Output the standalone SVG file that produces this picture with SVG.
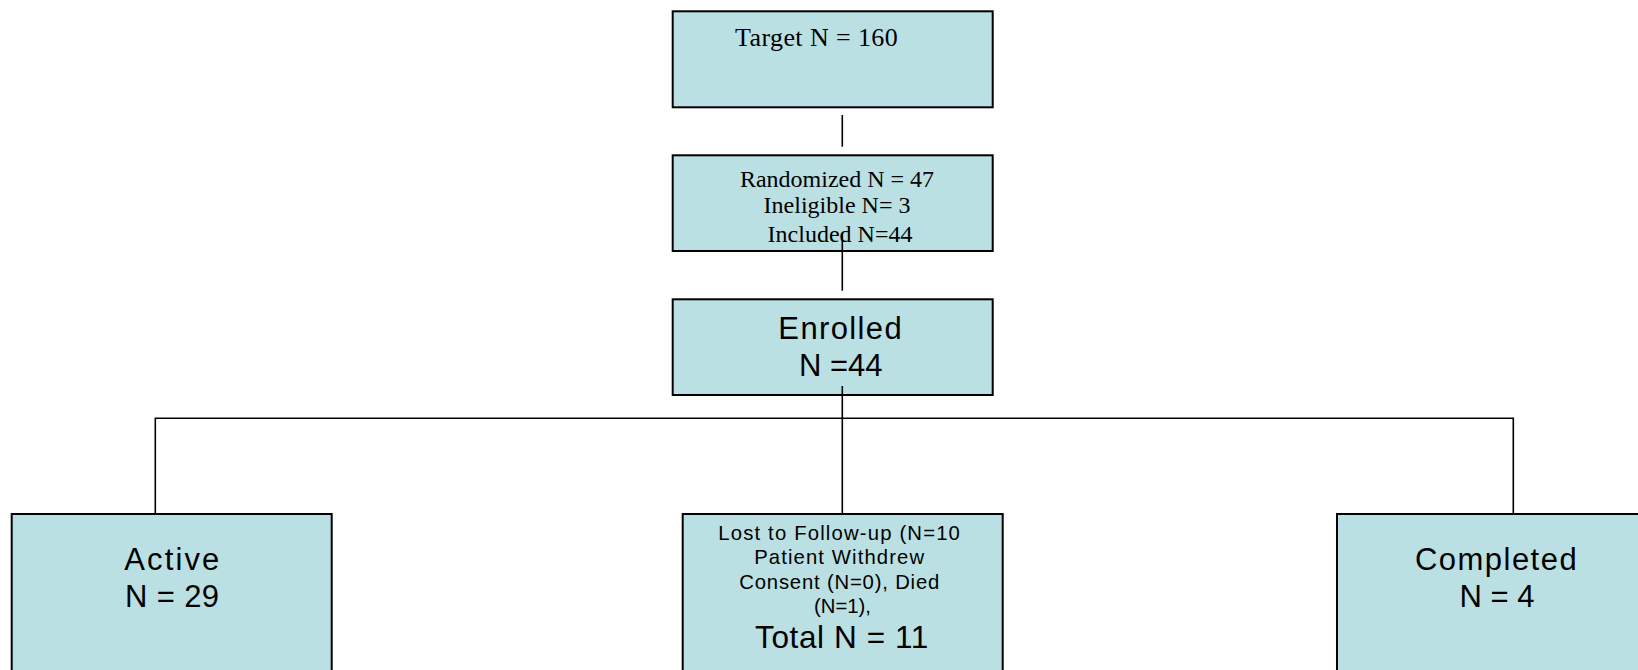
<svg xmlns="http://www.w3.org/2000/svg" width="1638" height="670" viewBox="0 0 1638 670">
<style>
.box{fill:#BBE0E3;stroke:#000;stroke-width:2}
.ln{fill:none;stroke:#000;stroke-width:1.6}
.tm{font-family:"Liberation Serif","Times New Roman",serif;fill:#000}
.ar{font-family:"Liberation Sans",Arial,sans-serif;fill:#000;text-anchor:middle}
</style>
<rect width="1638" height="670" fill="#fff"/>
<g id="connectors">
<line class="ln" x1="842.3" y1="115" x2="842.3" y2="146.7"/>
<line class="ln" x1="842.3" y1="233" x2="842.3" y2="290.7"/>
<line class="ln" x1="842.3" y1="386" x2="842.3" y2="514"/>
<polyline class="ln" points="155.3,514 155.3,418.3 1513.3,418.3 1513.3,514"/>
</g>
<g id="target">
<rect class="box" x="672.7" y="11.3" width="320" height="96"/>
<text class="tm" x="735" y="45.7" font-size="26" textLength="162.7" lengthAdjust="spacing">Target N = 160</text>
</g>
<g id="randomized">
<rect class="box" x="672.7" y="155.3" width="320" height="95.7"/>
<text class="tm" font-size="24" text-anchor="middle">
<tspan x="840" y="186.7">Randomized N = 47</tspan>
<tspan x="840" y="213.3">Ineligible N= 3</tspan>
<tspan x="840" y="242.3">Included N=44</tspan>
</text>
</g>
<line class="ln" x1="842.3" y1="233" x2="842.3" y2="251"/>
<g id="enrolled">
<rect class="box" x="672.7" y="299.3" width="320" height="95.7"/>
<text class="ar" x="840" y="339.3" font-size="31" textLength="123.3" lengthAdjust="spacing">Enrolled</text>
<text class="ar" x="840.8" y="375.7" font-size="31">N =44</text>
</g>
<line class="ln" x1="842.3" y1="386" x2="842.3" y2="395"/>
<g id="active">
<rect class="box" x="11.7" y="514" width="320" height="170"/>
<text class="ar" x="171.8" y="570" font-size="31" textLength="95" lengthAdjust="spacing">Active</text>
<text class="ar" x="172" y="606.7" font-size="31" textLength="94" lengthAdjust="spacing">N = 29</text>
</g>
<g id="lost">
<rect class="box" x="682.7" y="514" width="320" height="170"/>
<text class="ar" font-size="20.3">
<tspan x="842.5" y="540" textLength="241.6" lengthAdjust="spacing">Lost to Follow-up (N=10</tspan>
<tspan x="842.5" y="564.3" textLength="170" lengthAdjust="spacing">Patient Withdrew</tspan>
<tspan x="842.5" y="589" textLength="200" lengthAdjust="spacing">Consent (N=0), Died</tspan>
<tspan x="842.5" y="612.7">(N=1),</tspan>
</text>
<text class="ar" x="841.7" y="648.3" font-size="31.5" textLength="173.3" lengthAdjust="spacing">Total N = 11</text>
</g>
<g id="completed">
<rect class="box" x="1337" y="514" width="320" height="170"/>
<text class="ar" x="1495.8" y="570" font-size="31" textLength="161.7" lengthAdjust="spacing">Completed</text>
<text class="ar" x="1497" y="606.7" font-size="31">N = 4</text>
</g>
</svg>
